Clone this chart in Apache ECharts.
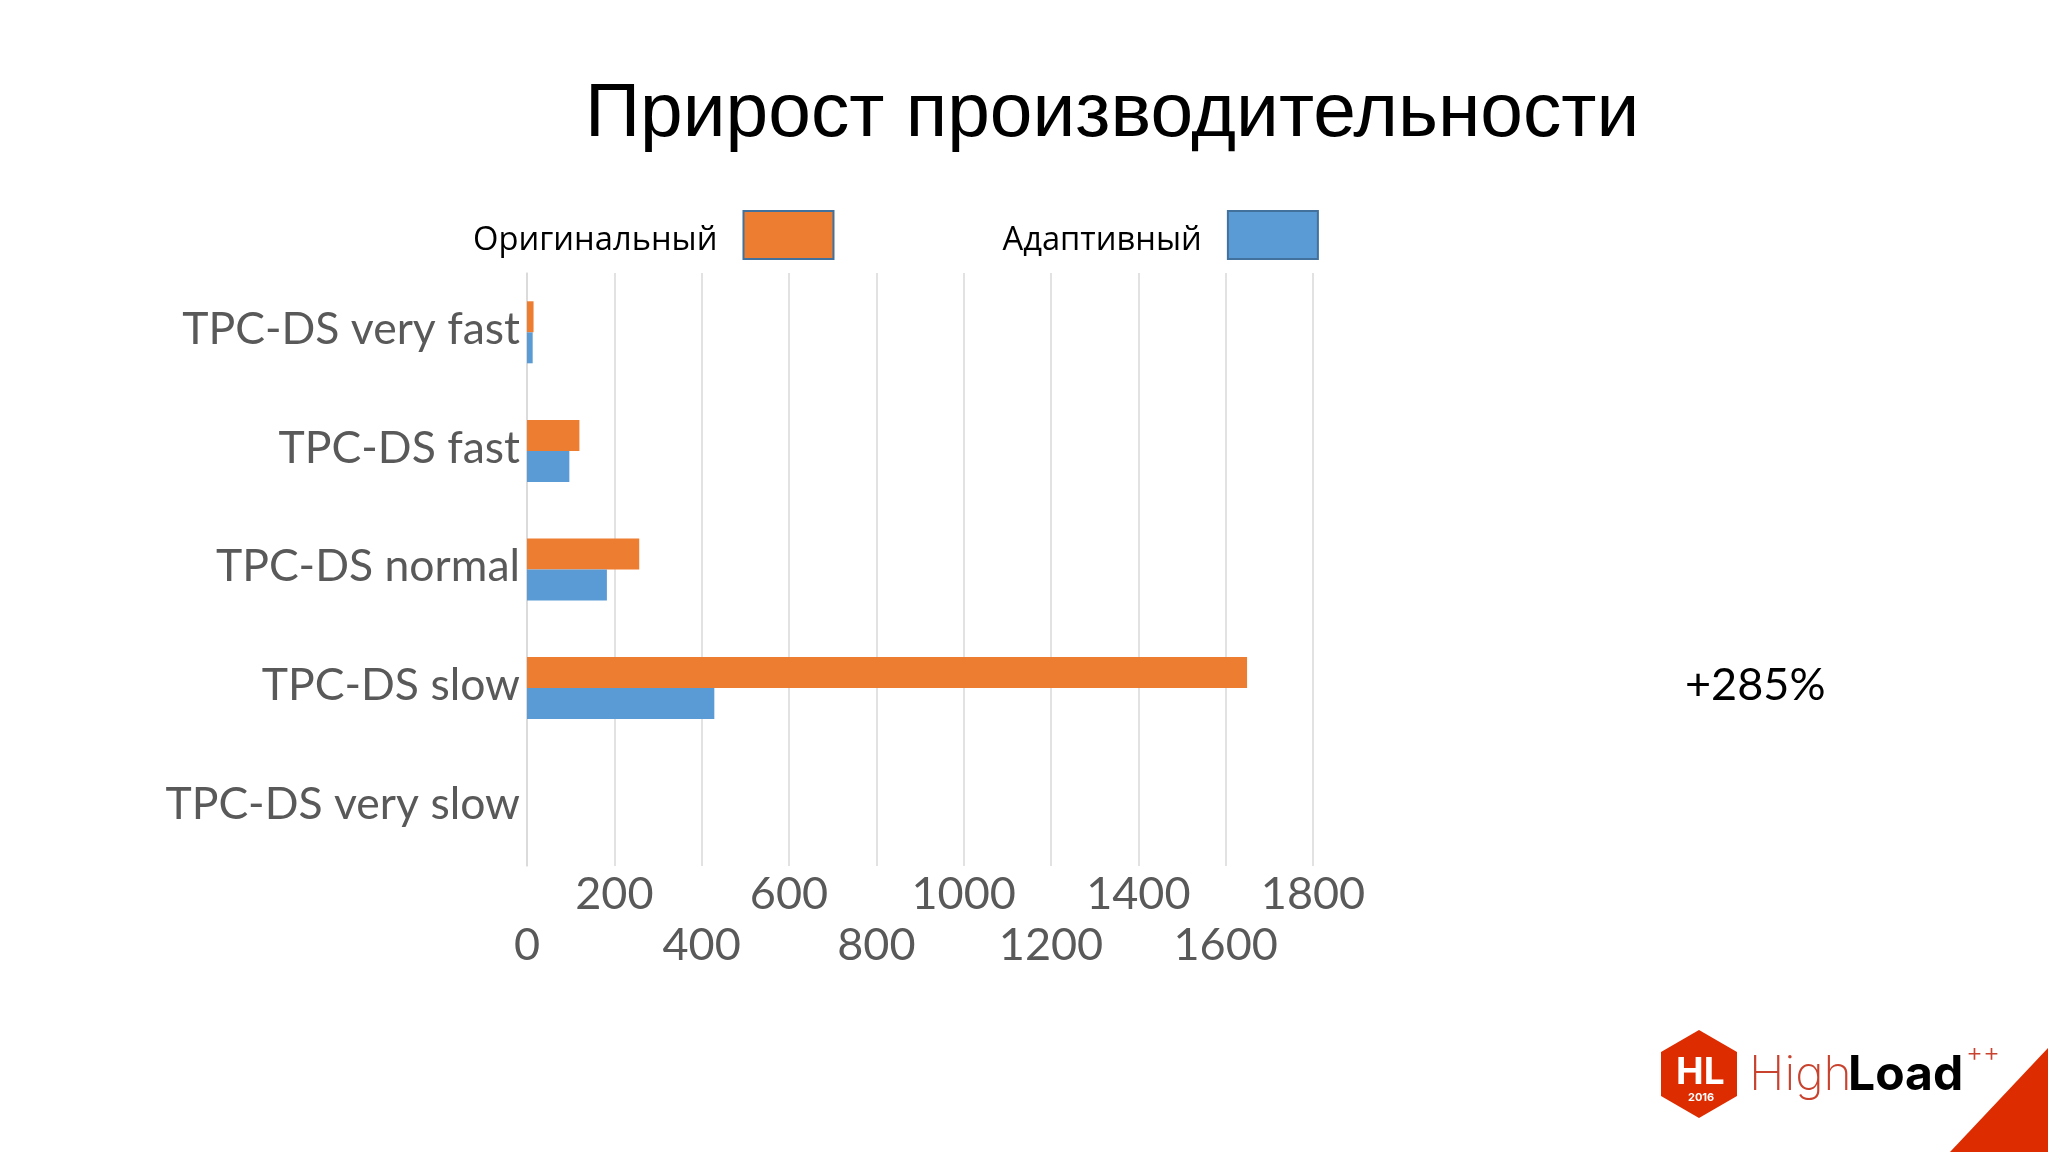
<!DOCTYPE html>
<html>
<head>
<meta charset="utf-8">
<style>
html, body { margin: 0; padding: 0; background: #fff; }
#chart { width: 2048px; height: 1152px; }
</style>
<script src="https://cdn.jsdelivr.net/npm/echarts@6/dist/echarts.min.js"></script>
</head>
<body>
<div id="chart"></div>
<script>
const categories = ['TPC-DS very fast', 'TPC-DS fast', 'TPC-DS normal', 'TPC-DS slow', 'TPC-DS very slow'];
const originalValues = [15, 120, 257, 1649, 0];
const adaptiveValues = [13, 97, 183, 429, 0];
const seriesNames = ['Оригинальный', 'Адаптивный'];
const axisFont = 'Lato';
const logoRed = '#dd2c00';

// подписи оси в два ряда: каждая ось показывает только свои значения
function valueAxis(margin, showValue, showGrid) {
    return {
        type: 'value',
        position: 'bottom',
        min: 0,
        max: 1800,
        interval: 200,
        axisLine: { show: false },
        axisTick: { show: false },
        splitLine: { show: showGrid, lineStyle: { color: '#d9d9d9', width: 1.5 } },
        axisLabel: {
            margin: margin,
            showMaxLabel: true,
            showMinLabel: true,
            hideOverlap: false,
            fontFamily: axisFont,
            fontSize: 45,
            lineHeight: 51,
            color: '#595959',
            formatter: function (value) {
                return showValue(value) ? String(value) : '';
            }
        }
    };
}

const chart = echarts.init(document.getElementById('chart'));
chart.setOption({
    animation: false,
    backgroundColor: '#ffffff',
    title: {
        text: 'Прирост производительности',
        left: 580,
        top: 71,
        textStyle: { fontFamily: 'Liberation Sans', fontWeight: 'normal', fontSize: 76.7, color: '#000000' }
    },
    legend: {
        data: seriesNames,
        left: 468,
        top: 205,
        align: 'right',
        itemWidth: 90,
        itemHeight: 48,
        itemGap: 168,
        icon: 'rect',
        itemStyle: { borderColor: '#41719c', borderWidth: 2 },
        formatter: '{n|{name}}',
        textStyle: {
            padding: [0, 21, 0, 0],
            rich: {
                n: { fontFamily: 'Open Sans', fontSize: 32.7, color: '#000000', lineHeight: 44, verticalAlign: 'bottom' }
            }
        }
    },
    grid: { left: 527, top: 273, width: 786, height: 593, containLabel: false },
    xAxis: [
        valueAxis(3, function (v) { return v % 400 !== 0; }, true),
        valueAxis(54, function (v) { return v % 400 === 0; }, false)
    ],
    yAxis: {
        type: 'category',
        inverse: true,
        data: categories,
        axisLine: { show: true, lineStyle: { color: '#d9d9d9', width: 1.5 } },
        axisTick: { show: false },
        axisLabel: {
            margin: 7,
            formatter: '{c|{value}}',
            rich: {
                c: { fontFamily: axisFont, fontSize: 44.5, color: '#595959', lineHeight: 50, verticalAlign: 'top' }
            }
        }
    },
    series: [
        {
            name: seriesNames[0],
            type: 'bar',
            data: originalValues,
            barWidth: 31,
            barGap: 0,
            itemStyle: { color: '#ed7d31' }
        },
        {
            name: seriesNames[1],
            type: 'bar',
            data: adaptiveValues,
            barWidth: 31,
            barGap: 0,
            itemStyle: { color: '#5b9bd5' }
        }
    ],
    graphic: [
        { type: 'text', left: 1685, top: 663, style: { text: '+285%', fontFamily: 'Lato', fontSize: 45, fill: '#000000' } },
        // логотип и уголок слайда
        { type: 'polygon', shape: { points: [[2048, 1048], [2048, 1152], [1950, 1152]] }, style: { fill: logoRed } },
        { type: 'polygon', shape: { points: [[1699, 1030], [1737, 1052], [1737, 1096], [1699, 1118], [1661, 1096], [1661, 1052]] }, style: { fill: logoRed } },
        { type: 'text', left: 1676, top: 1054, style: { text: 'HL', fontFamily: 'Inter', fontWeight: 'bold', fontSize: 37, fill: '#ffffff' } },
        { type: 'text', left: 1688, top: 1092, style: { text: '2016', fontFamily: 'Inter', fontWeight: 'bold', fontSize: 11, fill: '#ffffff' } },
        { type: 'text', left: 1749, top: 1052, style: { text: 'High', fontFamily: 'Inter', fontWeight: 200, fontSize: 48, fill: '#c8422e' } },
        { type: 'text', left: 1848, top: 1052, style: { text: 'Load', fontFamily: 'Inter', fontWeight: 'bold', fontSize: 48, fill: '#000000' } },
        { type: 'text', left: 1966, top: 1040, style: { text: '++', fontFamily: 'Inter', fontWeight: 300, fontSize: 26, fill: '#c8422e' } }
    ]
});
</script>
</body>
</html>
